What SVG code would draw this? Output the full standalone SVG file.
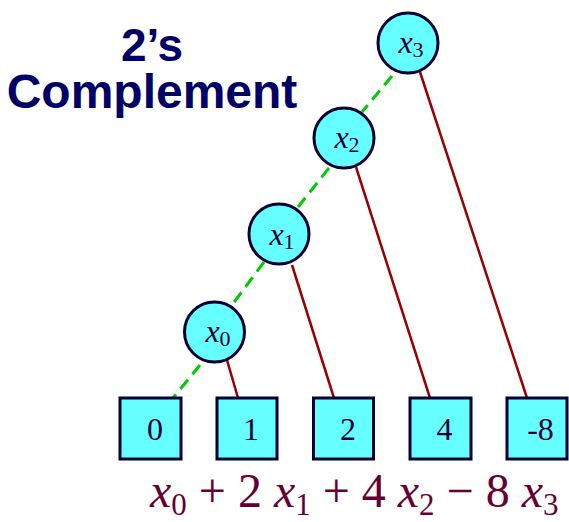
<svg xmlns="http://www.w3.org/2000/svg" width="569" height="522" viewBox="0 0 569 522">
<style>
.node{fill:#66ffff;stroke:#000033;stroke-width:3}
.lbl{font-family:"Liberation Serif","Times New Roman",serif;fill:#000033}
.var{font-style:italic;font-size:32px}
.sub{font-size:22px}
.box{font-family:"Liberation Serif","Times New Roman",serif;font-size:32px;fill:#000033;text-anchor:middle}
.zero{stroke:#00cc00;stroke-width:3;stroke-dasharray:12 7;fill:none}
.one{stroke:#990000;stroke-width:2.5;fill:none}
.title{font-family:"Liberation Sans",Arial,sans-serif;font-weight:bold;fill:#000066;text-anchor:middle}
.eq{font-family:"Liberation Serif","Times New Roman",serif;font-size:48px;fill:#660033}
.es{font-size:31px}
</style>
<rect width="569" height="522" fill="#ffffff"/>
<g id="title">
<text class="title" x="152" y="61" font-size="46">2’s</text>
<text class="title" x="152" y="108" font-size="48">Complement</text>
</g>
<g id="connectors">
<line class="zero" x1="392" y1="76" x2="362" y2="112"/>
<line class="zero" x1="329" y1="168" x2="298" y2="207"/>
<line class="zero" x1="264" y1="262" x2="232" y2="305"/>
<line class="zero" x1="200" y1="365" x2="173" y2="398"/>
<line class="one" x1="227" y1="360" x2="238" y2="398"/>
<line class="one" x1="292" y1="265" x2="334" y2="398"/>
<line class="one" x1="356" y1="167" x2="430" y2="398"/>
<line class="one" x1="420" y1="72" x2="527" y2="398"/>
</g>
<g id="node-x3">
<circle class="node" cx="408" cy="43" r="30"/>
<text class="lbl" x="411" y="53" text-anchor="middle"><tspan class="var">x</tspan><tspan class="sub" dy="4">3</tspan></text>
</g>
<g id="node-x2">
<circle class="node" cx="344" cy="138" r="30"/>
<text class="lbl" x="347" y="148" text-anchor="middle"><tspan class="var">x</tspan><tspan class="sub" dy="4">2</tspan></text>
</g>
<g id="node-x1">
<circle class="node" cx="279" cy="234" r="30"/>
<text class="lbl" x="282" y="245" text-anchor="middle"><tspan class="var">x</tspan><tspan class="sub" dy="4">1</tspan></text>
</g>
<g id="node-x0">
<circle class="node" cx="214.5" cy="332" r="30"/>
<text class="lbl" x="218" y="342" text-anchor="middle"><tspan class="var">x</tspan><tspan class="sub" dy="4">0</tspan></text>
</g>
<g id="box-0"><rect class="node" x="120" y="398" width="61" height="61"/><text class="box" x="155" y="440">0</text></g>
<g id="box-1"><rect class="node" x="217" y="398" width="60" height="61"/><text class="box" x="251" y="440">1</text></g>
<g id="box-2"><rect class="node" x="313.5" y="398" width="60" height="61"/><text class="box" x="348" y="440">2</text></g>
<g id="box-4"><rect class="node" x="410" y="398" width="61" height="61"/><text class="box" x="444.5" y="440">4</text></g>
<g id="box-m8"><rect class="node" x="507" y="398" width="60" height="61"/><text class="box" x="540.5" y="440">-8</text></g>
<g id="formula">
<text class="eq" x="150" y="507" xml:space="preserve"><tspan font-style="italic">x</tspan><tspan class="es" dy="8">0</tspan><tspan dy="-8"> + 2 </tspan><tspan font-style="italic">x</tspan><tspan class="es" dy="8">1</tspan><tspan dy="-8"> + 4 </tspan><tspan font-style="italic">x</tspan><tspan class="es" dy="8">2</tspan><tspan dy="-8"> − 8 </tspan><tspan font-style="italic">x</tspan><tspan class="es" dy="8">3</tspan></text>
</g>
</svg>
